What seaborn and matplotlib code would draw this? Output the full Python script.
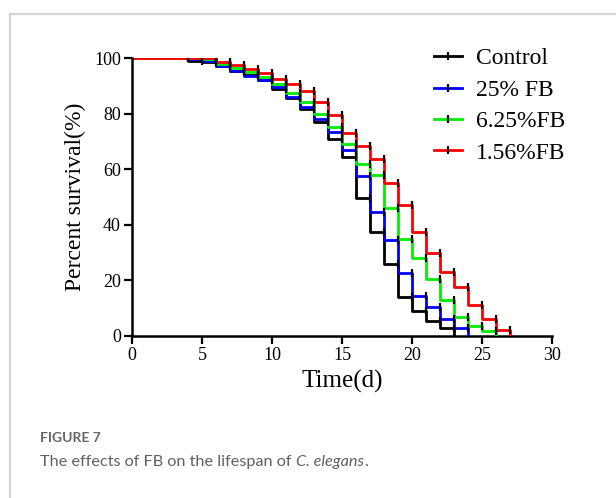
import matplotlib
matplotlib.use("Agg")
import matplotlib.pyplot as plt
import seaborn as sns
import pandas as pd
from matplotlib.lines import Line2D

# ---- data ----
groups = ["Control", "25% FB", "6.25%FB", "1.56%FB"]
colors = ["#000000", "#0000ff", "#00ee00", "#ff0000"]
control = [100, 100, 100, 100, 99, 98.5, 97, 95.5, 94, 92, 89, 85.5, 81.5, 77, 71, 64.5,
           49.5, 37.5, 26, 14, 9, 5.5, 3, 0]
fb25 = [100, 100, 100, 100, 99.5, 99, 97, 95.5, 93.5, 92, 89.5, 86, 82.5, 78, 73.5, 67,
        57.5, 44.5, 34.5, 22.5, 14.5, 10.5, 6, 3, 0]
fb625 = [100, 100, 100, 100, 100, 99.5, 98, 96.5, 95, 93, 90.5, 87.5, 84, 80, 75, 69,
         62, 58, 46, 35, 28, 20.5, 13, 7, 3.5, 1.8, 0]
fb156 = [100, 100, 100, 100, 100, 100, 98.5, 97.5, 96, 94.5, 92.5, 90.5, 88, 84, 79.5, 73,
         68.5, 63.5, 55, 47, 37.5, 30, 23, 17.5, 11, 6, 2, 0]
series = [control, fb25, fb625, fb156]
x_ticks = [0, 5, 10, 15, 20, 25, 30]
y_ticks = [0, 20, 40, 60, 80, 100]

rows = []
for g, vals in zip(groups, series):
    for d, v in enumerate(vals):
        rows.append({"group": g, "day": d, "survival": v})
df = pd.DataFrame(rows)

serif = ["Liberation Serif", "DejaVu Serif"]
fig = plt.figure(figsize=(6.16, 4.98), dpi=100)
ax = fig.add_axes([132 / 616, 1 - 336 / 498, 420 / 616, 278 / 498])

sns.lineplot(data=df, x="day", y="survival", hue="group", hue_order=groups,
             palette=colors, estimator=None, drawstyle="steps-post",
             linewidth=2.0, legend=False, ax=ax, zorder=3)

# censor tick marks (black) at every step corner
for vals in series:
    xs, ys = [], []
    for d in range(1, len(vals)):
        if vals[d] != vals[d - 1]:
            xs.append(d)
            ys.append(vals[d - 1])
    ax.plot(xs, ys, linestyle="none", marker="|", color="black",
            markersize=6, markeredgewidth=1.6, zorder=4)

ax.set_xlim(0, 30)
ax.set_ylim(0, 100)
ax.set_xticks(x_ticks)
ax.set_yticks(y_ticks)
ax.set_xticklabels([str(t) for t in x_ticks], fontfamily=serif, fontsize=13)
ax.set_yticklabels([str(t) for t in y_ticks], fontfamily=serif, fontsize=13)
ax.tick_params(direction="out", length=6, width=1.6, color="black", pad=2)
for s in ["top", "right"]:
    ax.spines[s].set_visible(False)
for s in ["left", "bottom"]:
    ax.spines[s].set_linewidth(1.8)
    ax.spines[s].set_color("black")
ax.spines["left"].set_zorder(5)
ax.set_xlabel("Time(d)", fontfamily=serif, fontsize=18, labelpad=4)
ax.set_ylabel("Percent survival(%)", fontfamily=serif, fontsize=17, labelpad=6)
ax.set_facecolor("white")

handles = [Line2D([0], [0], color=c, linewidth=2.0, marker="|", markersize=6,
                  markeredgecolor="black", markeredgewidth=1.6) for c in colors]
fig.legend(handles, groups, loc="upper left", bbox_to_anchor=(422 / 616, 1 - 36 / 498),
           frameon=False, prop={"family": serif, "size": 17},
           handlelength=1.2, handletextpad=0.6, labelspacing=0.42, borderpad=0)

# card border
fig.add_artist(Line2D([9.5 / 616, 1.0], [1 - 14 / 498, 1 - 14 / 498],
                      color="#d4d4d4", linewidth=1.6, transform=fig.transFigure))
fig.add_artist(Line2D([9.5 / 616, 9.5 / 616], [0, 1 - 14 / 498],
                      color="#d4d4d4", linewidth=1.6, transform=fig.transFigure))

# caption
sans = ["Lato", "DejaVu Sans"]
fig.text(40 / 616, 1 - 438 / 498, "FIGURE 7", fontfamily=sans, fontsize=10,
         fontweight="bold", color="#666666", va="center")
t1 = fig.text(40 / 616, 1 - 462 / 498, "The effects of FB on the lifespan of ",
              fontfamily=sans, fontsize=11.7, color="#606060", va="center")
fig.canvas.draw()
bb = t1.get_window_extent()
t2 = fig.text(bb.x1 / fig.bbox.width, 1 - 462 / 498, "C. elegans",
              fontfamily=sans, fontsize=11.7, color="#606060", va="center", style="italic")
fig.canvas.draw()
bb2 = t2.get_window_extent()
fig.text(bb2.x1 / fig.bbox.width, 1 - 462 / 498, ".",
         fontfamily=sans, fontsize=11.7, color="#606060", va="center")

fig.savefig("out.png", dpi=100, facecolor="white")
